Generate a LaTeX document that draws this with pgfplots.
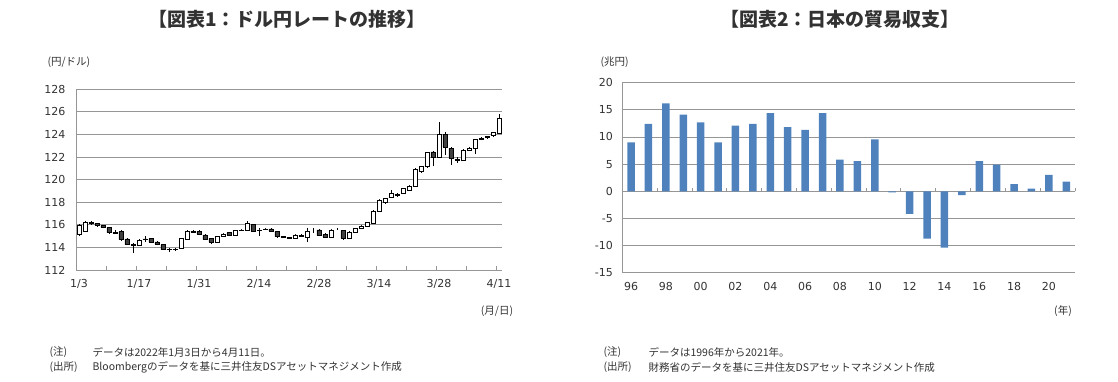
\documentclass[border=0pt]{standalone}
\usepackage{fontspec}
\setmainfont{DejaVu Sans}
\newfontfamily\jp{Noto Sans CJK JP}
\usepackage{pgfplots}
\usepackage{pgfplotstable}
\pgfplotsset{compat=1.18}
\definecolor{gridc}{RGB}{150,150,150}
\definecolor{txt}{RGB}{50,50,50}
\definecolor{barblue}{RGB}{79,129,189}
\pgfplotstableread{
i O H L C
0 115.15 116.05 115.00 115.95
1 115.45 116.35 115.40 116.25
2 116.20 116.30 115.95 116.15
3 116.15 116.20 115.85 115.95
4 115.95 116.00 115.70 115.75
5 115.75 115.85 115.20 115.30
6 115.35 115.50 115.15 115.25
7 115.40 115.50 114.60 114.70
8 114.75 114.80 114.20 114.25
9 114.25 114.35 113.50 114.20
10 114.20 114.75 114.15 114.65
11 114.75 115.00 114.50 114.70
12 114.80 114.85 114.40 114.45
13 114.50 114.60 114.20 114.30
14 114.25 114.30 113.75 113.80
15 113.85 113.95 113.55 113.80
16 113.80 113.95 113.70 113.85
17 113.95 114.85 113.90 114.80
18 114.75 115.50 114.70 115.40
19 115.45 115.50 115.30 115.35
20 115.45 115.50 115.15 115.20
21 115.10 115.15 114.65 114.70
22 114.80 114.85 114.30 114.50
23 114.50 115.05 114.45 115.00
24 115.00 115.25 114.95 115.20
25 115.30 115.35 115.05 115.10
26 115.10 115.55 115.05 115.50
27 115.50 115.60 115.45 115.55
28 115.50 116.35 115.45 116.15
29 116.05 116.10 115.35 115.45
30 115.50 115.70 115.00 115.55
31 115.60 115.70 115.50 115.65
32 115.65 115.70 115.35 115.45
33 115.40 115.45 114.85 114.95
34 114.95 115.00 114.80 114.90
35 114.90 114.95 114.75 114.80
36 114.80 115.15 114.75 115.10
37 115.05 115.15 114.95 115.00
38 114.90 115.75 114.45 115.40
39 115.55 115.70 115.30 115.55
40 115.55 115.60 115.00 115.05
41 115.15 115.30 114.80 114.90
42 114.90 115.60 114.85 115.55
43 115.60 115.70 115.50 115.60
44 115.50 115.55 114.70 114.80
45 114.80 115.45 114.75 115.35
46 115.30 115.75 115.25 115.70
47 115.70 115.95 115.65 115.90
48 115.90 116.25 115.85 116.20
49 116.10 117.30 116.05 117.20
50 117.20 118.30 117.15 118.20
51 118.00 118.40 117.80 118.35
52 118.45 119.10 118.40 118.80
53 118.70 118.85 118.50 118.65
54 118.80 119.30 118.75 119.25
55 119.10 119.50 119.00 119.45
56 119.45 121.00 119.40 120.90
57 120.70 121.20 120.60 121.15
58 121.15 122.45 121.00 122.45
59 122.45 122.55 121.20 122.00
60 122.00 125.10 121.90 124.00
61 124.00 124.20 122.20 122.90
62 122.75 122.85 121.30 121.90
63 121.80 122.00 121.45 121.75
64 121.75 122.70 121.70 122.60
65 122.60 122.85 122.50 122.80
66 122.75 123.60 122.30 123.55
67 123.60 123.75 123.50 123.65
68 123.75 123.90 123.60 123.80
69 123.90 124.25 123.80 124.20
70 124.10 125.80 124.00 125.40
}\fx
\pgfplotstableread{
x y
0 9.0
1 12.4
2 16.2
3 14.1
4 12.7
5 9.0
6 12.1
7 12.4
8 14.4
9 11.8
10 11.3
11 14.4
12 5.85
13 5.55
14 9.55
15 -0.2
16 -4.15
17 -8.7
18 -10.4
19 -0.7
20 5.55
21 4.9
22 1.3
23 0.5
24 3.0
25 1.8
}\trade
\begin{document}
\begin{tikzpicture}
\path[use as bounding box] (0,0) rectangle (1118pt,381pt);
% titles
\node[txt] at (287pt,362pt) {\jp\bfseries\fontsize{19}{19}\selectfont 【図表1：ドル円レートの推移】};
\node[txt] at (840pt,362pt) {\jp\bfseries\fontsize{19}{19}\selectfont 【図表2：日本の貿易収支】};
% units
\node[anchor=west,txt] at (44pt,319pt) {\jp\fontsize{10.5}{10.5}\selectfont (円/ドル)};
\node[anchor=west,txt] at (597pt,319pt) {\jp\fontsize{10.5}{10.5}\selectfont (兆円)};
\node[txt] at (497pt,70pt) {\jp\fontsize{10.5}{10.5}\selectfont (月/日)};
\node[txt] at (1063pt,70pt) {\jp\fontsize{10.5}{10.5}\selectfont (年)};
% notes
\begin{scope}[every node/.style={anchor=west,txt,font=\jp\fontsize{10.5}{10.5}\selectfont}]
\node at (46pt,29pt) {(注)};
\node at (89pt,29pt) {データは2022年1月3日から4月11日。};
\node at (46pt,14pt) {(出所)};
\node at (89pt,14pt) {Bloombergのデータを基に三井住友DSアセットマネジメント作成};
\node at (600pt,29pt) {(注)};
\node at (645pt,29pt) {データは1996年から2021年。};
\node at (600pt,14pt) {(出所)};
\node at (645pt,14pt) {財務省のデータを基に三井住友DSアセットマネジメント作成};
\end{scope}
% left chart: grid + wicks
\begin{axis}[at={(76pt,111pt)}, anchor=south west, scale only axis,
  width=426pt, height=180.7pt,
  xmin=-0.5, xmax=70.5, ymin=112, ymax=128,
  axis x line*=bottom, axis y line*=left,
  axis line style={gridc, line width=0.9pt},
  ymajorgrids, grid style={gridc, line width=0.9pt},
  ytick={112,114,...,128},
  yticklabels={112,114,116,118,120,122,124,126,128},
  xtick={0,10,...,70},
  xticklabels={1/3,1/17,1/31,2/14,2/28,3/14,3/28,4/11},
  minor xtick={4.5,9.5,...,70.5},
  major tick length=0pt, minor tick length=4.5pt, tick align=inside,
  minor tick style={gridc, line width=0.8pt},
  tick label style={font=\fontsize{11}{11}\selectfont, text=txt},
  yticklabel style={xshift=-7pt},
  xticklabel style={yshift=-6pt},
  clip=false]
\addplot[draw=none, mark=none, forget plot,
  error bars/.cd, y dir=both, y explicit, error mark=none,
  error bar style={draw=black, line width=0.6pt, solid}]
  table[x=i, y expr=(\thisrow{H}+\thisrow{L})/2, y error expr=(\thisrow{H}-\thisrow{L})/2] {\fx};
\end{axis}
% left chart: bodies
\begin{axis}[at={(76pt,111pt)}, anchor=south west, scale only axis,
  width=426pt, height=180.7pt,
  xmin=-0.5, xmax=70.5, ymin=112, ymax=128,
  hide axis, ybar stacked, bar width=4.4pt]
\addplot[draw=none, fill=none] table[x=i, y expr={min(\thisrow{O},\thisrow{C})}] {\fx};
\addplot[draw=black, fill=white, line width=0.5pt] table[x=i, y expr={max(\thisrow{C}-\thisrow{O},0)}] {\fx};
\addplot[draw=black, fill=black!75, line width=0.5pt] table[x=i, y expr={max(\thisrow{O}-\thisrow{C},0)}] {\fx};
\end{axis}
% right chart
\begin{axis}[at={(622.3pt,108.3pt)}, anchor=south west, scale only axis,
  width=452.7pt, height=190pt,
  xmin=-0.5, xmax=25.5, ymin=-15, ymax=20,
  axis x line*=bottom, axis y line*=left,
  axis line style={gridc, line width=0.9pt},
  x axis line style={draw=none},
  ymajorgrids, grid style={gridc, line width=0.9pt},
  ytick={-15,-10,...,20},
  yticklabels={-15,-10,-5,0,5,10,15,20},
  xtick={0,2,...,24},
  xticklabels={96,98,00,02,04,06,08,10,12,14,16,18,20},
  major tick length=0pt,
  tick label style={font=\fontsize{11}{11}\selectfont, text=txt},
  yticklabel style={xshift=-6pt},
  xticklabel style={yshift=-6pt},
  ybar, bar width=7.5pt, clip=false]
\addplot[fill=barblue, draw=none] table[x=x, y=y] {\trade};
\pgfplotsinvokeforeach{1.5,3.5,5.5,7.5,9.5,11.5,13.5,15.5,17.5,19.5,21.5,23.5,25.5}{
  \draw[gridc, line width=0.8pt] (axis cs:#1,0) -- ([yshift=3.5pt]axis cs:#1,0);
}
\end{axis}
\end{tikzpicture}
\end{document}
